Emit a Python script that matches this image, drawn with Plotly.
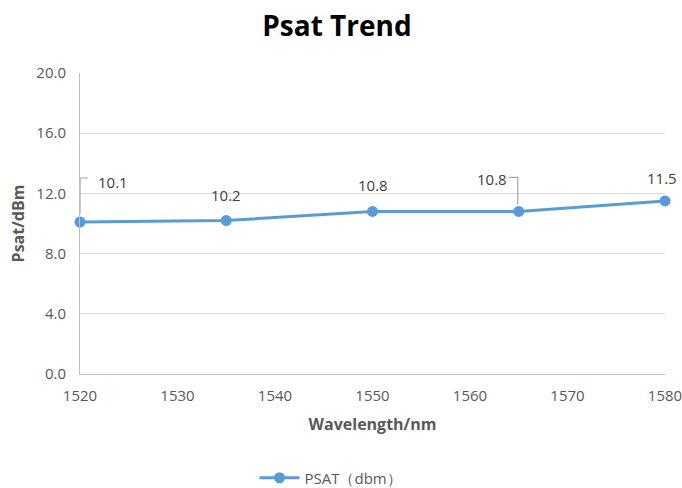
import plotly.graph_objects as go

wavelength = [1520, 1535, 1550, 1565, 1580]
psat = [10.1, 10.2, 10.8, 10.8, 11.5]
labels = ["10.1", "10.2", "10.8", "10.8", "11.5"]
series_name = "PSAT（dbm）"
x_ticks = [1520, 1530, 1540, 1550, 1560, 1570, 1580]
y_ticks = [0, 4, 8, 12, 16, 20]

# label offsets in pixels (style)
label_shift = [(33, 40), (0, 25), (0, 26), (-27, 32), (-3, 23)]

FONT = "Open Sans"
GRAY = "#595959"
BLUE = "#5b9bd5"

fig = go.Figure()
fig.add_trace(go.Scatter(
    x=wavelength, y=psat, mode="lines+markers", name=series_name,
    line=dict(color=BLUE, width=3),
    marker=dict(color=BLUE, size=11),
    cliponaxis=False,
))

for xv, yv, t, (dx, dy) in zip(wavelength, psat, labels, label_shift):
    fig.add_annotation(x=xv, y=yv, text=t, showarrow=False, xshift=dx, yshift=dy,
                       font=dict(family=FONT, size=15, color="#404040"))

# leader lines (elbow) for labels 1 and 4
fig.add_shape(type="path", xref="x", yref="y", xsizemode="pixel", ysizemode="pixel",
              xanchor=wavelength[0], yanchor=psat[0],
              path="M0,8 L0,44 L8,44", line=dict(color="#a6a6a6", width=1.2))
fig.add_shape(type="path", xref="x", yref="y", xsizemode="pixel", ysizemode="pixel",
              xanchor=wavelength[3], yanchor=psat[3],
              path="M-10,34 L-1,34 L-1,7", line=dict(color="#a6a6a6", width=1.2))

fig.update_layout(
    width=682, height=488,
    margin=dict(l=80, r=17, t=73, b=114, autoexpand=False),
    paper_bgcolor="white", plot_bgcolor="white",
    title=dict(text="<b>Psat Trend</b>", x=337 / 682, xanchor="center", xref="container",
               y=1 - 26 / 488, yanchor="middle",
               font=dict(family=FONT, size=28, color="black")),
    font=dict(family=FONT, size=15, color=GRAY),
    showlegend=True,
    legend=dict(orientation="h", x=(331 - 80) / 585, xanchor="center", yref="paper",
                y=(374 - 478) / 301, yanchor="middle", itemwidth=40,
                font=dict(family=FONT, size=15, color=GRAY)),
    xaxis=dict(range=[1520, 1580], tickvals=x_ticks, showgrid=False, zeroline=False,
               showline=True, linecolor="#bfbfbf", linewidth=1, ticks="",
               ticklabelstandoff=8, ticklabeloverflow="allow",
               tickfont=dict(family=FONT, size=15, color=GRAY),
               title=dict(text="<b>Wavelength/nm</b>", standoff=14,
                          font=dict(family=FONT, size=16, color=GRAY))),
    yaxis=dict(range=[0, 20], tickvals=y_ticks, tickformat=".1f", showgrid=True,
               gridcolor="#d9d9d9", gridwidth=1, zeroline=False,
               showline=True, linecolor="#bfbfbf", linewidth=1, ticks="",
               ticklabelstandoff=10,
               tickfont=dict(family=FONT, size=15, color=GRAY),
               title=dict(text="<b>Psat/dBm</b>", standoff=7,
                          font=dict(family=FONT, size=16, color=GRAY))),
)

fig.write_html("out.html", config={"displayModeBar": False},
               post_script="document.body.style.margin='0px';")
